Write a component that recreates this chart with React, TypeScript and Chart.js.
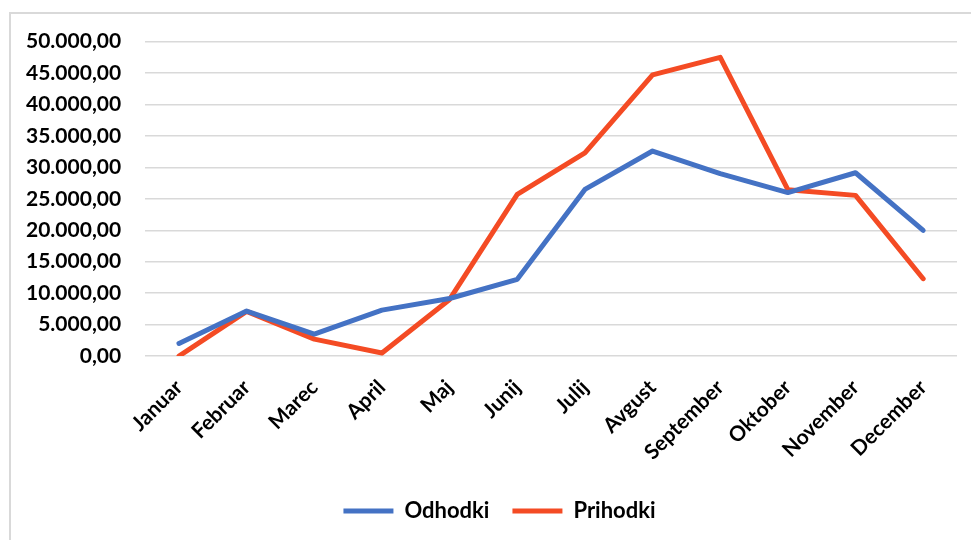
import React, { useEffect, useRef } from "react";
import { Chart, registerables } from "chart.js";

Chart.register(...registerables);

const months = [
  "Januar", "Februar", "Marec", "April", "Maj", "Junij",
  "Julij", "Avgust", "September", "Oktober", "November", "December",
];
const odhodki = [2000, 7150, 3500, 7300, 9150, 12200, 26500, 32600, 29000, 26000, 29150, 20000];
const prihodki = [0, 7100, 2700, 500, 9000, 25700, 32300, 44700, 47500, 26450, 25550, 12300];
const yMin = 0;
const yMax = 50000;
const yStep = 5000;

const FONT = "Lato, 'Open Sans', sans-serif";

function fmt(v: number): string {
  const whole = Math.round(v).toString().replace(/\B(?=(\d{3})+(?!\d))/g, ".");
  return whole + ",00";
}

const legendShift = {
  id: "legendShift",
  afterLayout(chart: any) {
    const l = chart.legend;
    if (l) {
      l.left += 20;
      l.right += 20;
    }
  },
};

export default function App() {
  const ref = useRef<HTMLCanvasElement | null>(null);
  useEffect(() => {
    if (!ref.current) return;
    const chart = new Chart(ref.current, {
      type: "line",
      data: {
        labels: months,
        datasets: [
          {
            label: "Odhodki",
            data: odhodki,
            borderColor: "#4472C4",
            backgroundColor: "#4472C4",
            borderWidth: 5,
            pointRadius: 0,
            borderCapStyle: "round",
            borderJoinStyle: "round",
            tension: 0,
          },
          {
            label: "Prihodki",
            data: prihodki,
            borderColor: "#F44B24",
            backgroundColor: "#F44B24",
            borderWidth: 5,
            pointRadius: 0,
            borderCapStyle: "round",
            borderJoinStyle: "round",
            tension: 0,
          },
        ],
      },
      plugins: [legendShift],
      options: {
        responsive: false,
        animation: false,
        layout: { padding: { left: -9, right: 32, top: 7, bottom: 13 } },
        plugins: {
          legend: {
            position: "bottom",
            labels: {
              usePointStyle: true,
              pointStyle: "line",
              pointStyleWidth: 50,
              padding: 23,
              color: "#000",
              font: { family: FONT, size: 22, weight: "bold" },
            },
          },
          tooltip: { enabled: false },
        },
        scales: {
          x: {
            offset: true,
            grid: { display: false, drawTicks: false },
            border: { display: false },
            afterFit: (scale: any) => {
              scale.height -= 7;
            },
            ticks: {
              color: "#000",
              minRotation: 45,
              maxRotation: 45,
              padding: 19,
              font: { family: FONT, size: 21, weight: "bold" },
            },
          },
          y: {
            min: yMin,
            max: yMax,
            grid: { color: "#d9d9d9", lineWidth: 1.5, drawTicks: false },
            border: { display: false },
            ticks: {
              stepSize: yStep,
              padding: 24,
              color: "#000",
              font: { family: FONT, size: 21, weight: "bold" },
              callback: (v: any) => fmt(Number(v)),
            },
          },
        },
      },
    });
    return () => chart.destroy();
  }, []);
  return (
    <div
      style={{
        position: "fixed",
        left: 9,
        top: 12,
        width: 1000,
        height: 560,
        borderLeft: "2px solid #d9d9d9",
        borderTop: "2px solid #d9d9d9",
        background: "#fff",
      }}
    >
      <canvas
        ref={ref}
        width={978}
        height={540}
        style={{ display: "block", position: "absolute", left: 0, top: -9 }}
      />
    </div>
  );
}
